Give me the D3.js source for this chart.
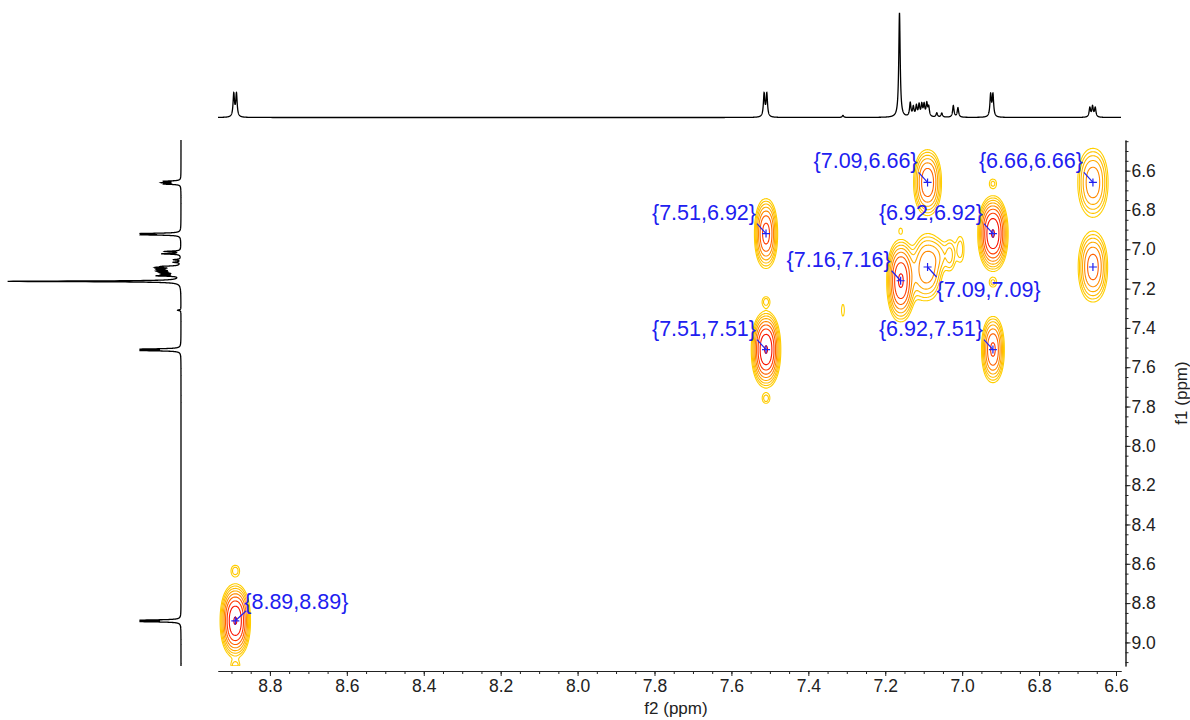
<!DOCTYPE html>
<html>
<head>
<meta charset="utf-8">
<script src="https://cdn.jsdelivr.net/npm/d3@7"></script>
<style>
body{margin:0;background:#fff;}
svg text{font-family:"Liberation Sans",Arial,sans-serif;}
</style>
</head>
<body>
<div id="chart"></div>
<script>
// axis ranges (ppm)
var f2Domain = [8.935, 6.587];
var f1Domain = [6.444, 9.12];
var f2Ticks = [8.8, 8.6, 8.4, 8.2, 8.0, 7.8, 7.6, 7.4, 7.2, 7.0, 6.8, 6.6];
var f1Ticks = [6.6, 6.8, 7.0, 7.2, 7.4, 7.6, 7.8, 8.0, 8.2, 8.4, 8.6, 8.8, 9.0];

// 1D proton spectrum: shift (ppm), relative height
var protonShifts = [8.894, 8.887, 7.515, 7.508, 7.31, 7.163,
  7.135, 7.127, 7.119, 7.112, 7.105, 7.099, 7.092, 7.087,
  7.066, 7.053, 7.023, 7.011, 6.926, 6.920, 6.668, 6.661, 6.654];
var protonHeights = [22, 22, 22, 22, 2, 100,
  13, 9, 10, 11, 11, 11, 12, 9,
  4, 4, 11, 9, 21, 21, 9, 10, 9];
var protonWidth = 0.0022;

// COSY cross peaks: f2, f1, amplitude, width f2, width f1
var crossPeaks = [
  [8.89, 8.89, 1.0, 0.0175, 0.083],
  [7.51, 7.51, 1.0, 0.017, 0.086],
  [7.51, 6.92, 0.55, 0.0148, 0.087],
  [6.92, 7.51, 0.5, 0.0148, 0.084],
  [6.92, 6.92, 1.0, 0.0175, 0.085],
  [7.16, 7.16, 0.7, 0.017, 0.098],
  [7.09, 7.09, 0.3, 0.021, 0.094],
  [7.09, 6.66, 0.45, 0.0185, 0.085],
  [6.66, 6.66, 0.3, 0.022, 0.097],
  [6.66, 7.09, 0.4, 0.02, 0.093],
  // weak features
  [8.89, 8.635, 0.09, 0.01, 0.025],
  [8.89, 9.125, 0.09, 0.01, 0.025],
  [7.51, 7.265, 0.085, 0.009, 0.022],
  [7.51, 7.76, 0.085, 0.009, 0.022],
  [6.92, 6.665, 0.08, 0.009, 0.022],
  [6.92, 7.17, 0.08, 0.009, 0.022],
  [7.16, 6.905, 0.06, 0.005, 0.015],
  [7.31, 7.31, 0.065, 0.005, 0.04],
  [7.03, 7.03, 0.1, 0.009, 0.06],
  [7.005, 7.0, 0.09, 0.009, 0.06],
  [7.055, 7.03, 0.08, 0.016, 0.055],
  [7.125, 7.13, 0.06, 0.02, 0.09]
];
var contourLevels = [0.05, 0.0725, 0.105, 0.152, 0.221, 0.32, 0.465, 0.675, 0.98];
var contourColors = ["#ffcf00", "#ffc600", "#ffbc00", "#ffab00", "#ff8a00", "#ff6200", "#ff3a00", "#f81400", "#e60000"];

// picked peaks
var labelF2 = [7.09, 6.66, 7.51, 6.92, 7.16, 7.09, 7.51, 6.92, 8.89, 6.66];
var labelF1 = [6.66, 6.66, 6.92, 6.92, 7.16, 7.09, 7.51, 7.51, 8.89, 7.09];
var labelSide = ["ul", "ul", "ul", "ul", "ul", "lr", "ul", "ul", "ur", "none"];

var width = 1190, height = 720;
var svg = d3.select("#chart").append("svg")
  .attr("width", width).attr("height", height);
svg.append("rect").attr("width", width).attr("height", height).attr("fill", "#fff");

var x = d3.scaleLinear().domain(f2Domain).range([218, 1121]);
var y = d3.scaleLinear().domain(f1Domain).range([140, 666]);

svg.append("clipPath").attr("id", "plotClip").append("rect")
  .attr("x", 218).attr("y", 140).attr("width", 903).attr("height", 526);

// ---- contours
var nx = 903, ny = 263;
var gx = d3.scaleLinear().domain([0, nx]).range(f2Domain);
var gy = d3.scaleLinear().domain([0, ny]).range(f1Domain);
var values = new Float64Array(nx * ny);
function shape(u){ return Math.exp(-0.5 * Math.pow(Math.abs(u), 2.2)); }
crossPeaks.forEach(function(p){
  var ex = new Float64Array(nx), ey = new Float64Array(ny);
  for (var i = 0; i < nx; i++) ex[i] = shape((gx(i + 0.5) - p[0]) / p[3]);
  for (var j = 0; j < ny; j++) ey[j] = shape((gy(j + 0.5) - p[1]) / p[4]);
  for (var j = 0; j < ny; j++) {
    if (ey[j] < 1e-4) continue;
    var a = p[2] * ey[j], row = j * nx;
    for (var i = 0; i < nx; i++) values[row + i] += a * ex[i];
  }
});
var contours = d3.contours().size([nx, ny]).thresholds(contourLevels)(values);
var toPlot = d3.geoTransform({point: function(cx, cy){
  this.stream.point(x(gx(cx)), y(gy(cy)));
}});
var contourPath = d3.geoPath(toPlot);
svg.append("g").attr("clip-path", "url(#plotClip)")
  .selectAll("path").data(contours).enter().append("path")
  .attr("d", contourPath)
  .attr("fill", "none")
  .attr("stroke", function(d, i){ return contourColors[i]; })
  .attr("stroke-width", 1.1);

// ---- 1D projections
function protonAt(ppm){
  var s = 0;
  for (var k = 0; k < protonShifts.length; k++) {
    var u = (ppm - protonShifts[k]) / protonWidth;
    s += protonHeights[k] / (1 + u * u);
  }
  return s;
}
var topPts = d3.range(f2Domain[1], f2Domain[0], 0.0002).map(function(p){ return [p, protonAt(p)]; });
var topY = d3.scaleLinear().domain([0, 100]).range([117.5, 13]);
svg.append("path")
  .attr("d", d3.line().x(function(d){ return x(d[0]); }).y(function(d){ return topY(d[1]); })(topPts))
  .attr("fill", "none").attr("stroke", "#000").attr("stroke-width", 1.3);

var leftPts = d3.range(f1Domain[0], f1Domain[1], 0.0002).map(function(p){ return [p, protonAt(p)]; });
var leftX = d3.scaleLinear().domain([0, 100]).range([181, 8]);
svg.append("path")
  .attr("d", d3.line().x(function(d){ return leftX(d[1]); }).y(function(d){ return y(d[0]); })(leftPts))
  .attr("fill", "none").attr("stroke", "#000").attr("stroke-width", 1.3);

// ---- axes
function minorTicks(dom){
  var lo = Math.min(dom[0], dom[1]), hi = Math.max(dom[0], dom[1]);
  return d3.range(Math.ceil(lo * 20), Math.floor(hi * 20) + 1).map(function(k){ return k / 20; });
}
var xAxisG = svg.append("g").attr("transform", "translate(0,671)");
xAxisG.call(d3.axisBottom(x).tickValues(minorTicks(f2Domain)).tickSize(3).tickSizeOuter(0).tickFormat(""));
xAxisG.append("g").call(d3.axisBottom(x).tickValues(f2Ticks).tickSize(5).tickSizeOuter(0).tickPadding(4)
  .tickFormat(d3.format(".1f")));
xAxisG.selectAll("text").attr("font-size", 17.5).attr("fill", "#222")
  .attr("font-family", "'Liberation Sans', Arial, sans-serif");
xAxisG.selectAll(".tick line, .domain").attr("stroke", "#222");

var yAxisG = svg.append("g").attr("transform", "translate(1125.5,0)");
yAxisG.call(d3.axisRight(y).tickValues(minorTicks(f1Domain)).tickSize(3).tickSizeOuter(0).tickFormat(""));
yAxisG.append("g").call(d3.axisRight(y).tickValues(f1Ticks).tickSize(5).tickSizeOuter(0).tickPadding(1)
  .tickFormat(d3.format(".1f")));
yAxisG.selectAll("text").attr("font-size", 17.5).attr("fill", "#222")
  .attr("font-family", "'Liberation Sans', Arial, sans-serif");
yAxisG.selectAll(".tick line, .domain").attr("stroke", "#222");

svg.append("text").attr("x", 676).attr("y", 714).attr("text-anchor", "middle")
  .attr("font-size", 17).attr("fill", "#222").text("f2 (ppm)");
svg.append("text").attr("transform", "translate(1187,393) rotate(-90)").attr("text-anchor", "middle")
  .attr("font-size", 17).attr("fill", "#222").text("f1 (ppm)");

// ---- peak picks
var blue = "#2020f0";
var picks = svg.append("g");
labelF2.forEach(function(f2, i){
  var px = x(f2), py = y(labelF1[i]);
  picks.append("path").attr("d", "M" + (px - 4) + "," + py + "H" + (px + 4) + "M" + px + "," + (py - 4) + "V" + (py + 4))
    .attr("stroke", blue).attr("stroke-width", 1.2);
  var side = labelSide[i];
  if (side === "none") return;
  var txt = "{" + f2.toFixed(2) + "," + labelF1[i].toFixed(2) + "}";
  var lx, ly, tx, ty, anchor;
  if (side === "ul") { lx = px - 9; ly = py - 10; tx = px - 10; ty = py - 14; anchor = "end"; }
  else if (side === "lr") { lx = px + 9; ly = py + 10; tx = px + 9; ty = py + 30; anchor = "start"; }
  else { lx = px + 11; ly = py - 10; tx = px + 9; ty = py - 12; anchor = "start"; }
  picks.append("line").attr("x1", px).attr("y1", py).attr("x2", lx).attr("y2", ly)
    .attr("stroke", blue).attr("stroke-width", 1.2);
  picks.append("text").attr("x", tx).attr("y", ty).attr("text-anchor", anchor)
    .attr("font-size", 21.5).attr("fill", blue).text(txt);
});
</script>
</body>
</html>
